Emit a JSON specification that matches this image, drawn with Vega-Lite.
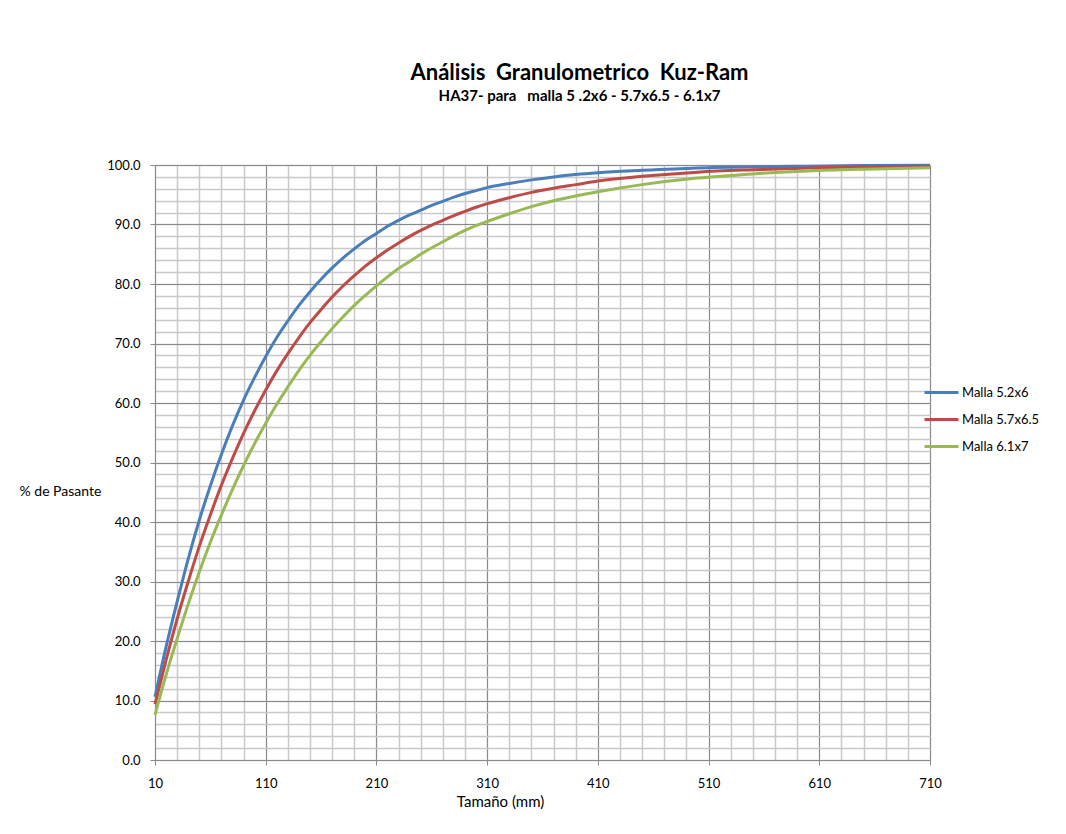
{
  "$schema": "https://vega.github.io/schema/vega-lite/v6.json",
  "width": 775,
  "height": 595,
  "autosize": "none",
  "padding": {"left": 155, "top": 165, "right": 136, "bottom": 74},
  "background": "white",
  "config": {
    "font": "Lato",
    "view": {"stroke": null},
    "axis": {"labelFont": "Lato", "titleFont": "Lato", "labelColor": "#000", "titleColor": "#000", "labelFontSize": 13, "titleFontSize": 14, "titleFontWeight": "normal"}
  },
  "title": {
    "text": "Análisis\u00a0 Granulometrico\u00a0 Kuz-Ram",
    "subtitle": "HA37- para\u00a0\u00a0 malla 5 .2x6 - 5.7x6.5 - 6.1x7",
    "anchor": "middle",
    "dx": 37,
    "offset": 54,
    "font": "Lato",
    "fontSize": 22,
    "fontWeight": "bold",
    "color": "#000",
    "subtitleFont": "Lato",
    "subtitleFontSize": 15,
    "subtitleFontWeight": "bold",
    "subtitleColor": "#000",
    "subtitlePadding": 4
  },
  "data": {
    "values": [
      {"s": "Malla 5.2x6", "x": 10, "p": 10.6}, {"s": "Malla 5.2x6", "x": 20, "p": 19.0}, {"s": "Malla 5.2x6", "x": 30, "p": 26.6}, {"s": "Malla 5.2x6", "x": 40, "p": 33.8}, {"s": "Malla 5.2x6", "x": 50, "p": 40.3}, {"s": "Malla 5.2x6", "x": 60, "p": 46.1}, {"s": "Malla 5.2x6", "x": 70, "p": 51.4}, {"s": "Malla 5.2x6", "x": 80, "p": 56.2}, {"s": "Malla 5.2x6", "x": 90, "p": 60.5}, {"s": "Malla 5.2x6", "x": 100, "p": 64.3}, {"s": "Malla 5.2x6", "x": 110, "p": 67.8}, {"s": "Malla 5.2x6", "x": 120, "p": 71.0}, {"s": "Malla 5.2x6", "x": 130, "p": 73.8}, {"s": "Malla 5.2x6", "x": 140, "p": 76.4}, {"s": "Malla 5.2x6", "x": 150, "p": 78.7}, {"s": "Malla 5.2x6", "x": 160, "p": 80.8}, {"s": "Malla 5.2x6", "x": 170, "p": 82.7}, {"s": "Malla 5.2x6", "x": 180, "p": 84.4}, {"s": "Malla 5.2x6", "x": 190, "p": 85.9}, {"s": "Malla 5.2x6", "x": 200, "p": 87.3}, {"s": "Malla 5.2x6", "x": 210, "p": 88.5}, {"s": "Malla 5.2x6", "x": 220, "p": 89.7}, {"s": "Malla 5.2x6", "x": 230, "p": 90.7}, {"s": "Malla 5.2x6", "x": 240, "p": 91.6}, {"s": "Malla 5.2x6", "x": 250, "p": 92.4}, {"s": "Malla 5.2x6", "x": 260, "p": 93.2}, {"s": "Malla 5.2x6", "x": 270, "p": 93.9}, {"s": "Malla 5.2x6", "x": 280, "p": 94.6}, {"s": "Malla 5.2x6", "x": 290, "p": 95.2}, {"s": "Malla 5.2x6", "x": 300, "p": 95.7}, {"s": "Malla 5.2x6", "x": 310, "p": 96.2}, {"s": "Malla 5.2x6", "x": 330, "p": 96.9}, {"s": "Malla 5.2x6", "x": 350, "p": 97.5}, {"s": "Malla 5.2x6", "x": 370, "p": 98.0}, {"s": "Malla 5.2x6", "x": 390, "p": 98.4}, {"s": "Malla 5.2x6", "x": 410, "p": 98.7}, {"s": "Malla 5.2x6", "x": 450, "p": 99.1}, {"s": "Malla 5.2x6", "x": 500, "p": 99.5}, {"s": "Malla 5.2x6", "x": 550, "p": 99.7}, {"s": "Malla 5.2x6", "x": 600, "p": 99.8}, {"s": "Malla 5.2x6", "x": 650, "p": 99.9}, {"s": "Malla 5.2x6", "x": 710, "p": 99.95},
      {"s": "Malla 5.7x6.5", "x": 10, "p": 9.4}, {"s": "Malla 5.7x6.5", "x": 20, "p": 16.8}, {"s": "Malla 5.7x6.5", "x": 30, "p": 23.7}, {"s": "Malla 5.7x6.5", "x": 40, "p": 30.0}, {"s": "Malla 5.7x6.5", "x": 50, "p": 35.9}, {"s": "Malla 5.7x6.5", "x": 60, "p": 41.2}, {"s": "Malla 5.7x6.5", "x": 70, "p": 46.2}, {"s": "Malla 5.7x6.5", "x": 80, "p": 50.7}, {"s": "Malla 5.7x6.5", "x": 90, "p": 54.9}, {"s": "Malla 5.7x6.5", "x": 100, "p": 58.7}, {"s": "Malla 5.7x6.5", "x": 110, "p": 62.2}, {"s": "Malla 5.7x6.5", "x": 120, "p": 65.4}, {"s": "Malla 5.7x6.5", "x": 130, "p": 68.3}, {"s": "Malla 5.7x6.5", "x": 140, "p": 71.0}, {"s": "Malla 5.7x6.5", "x": 150, "p": 73.5}, {"s": "Malla 5.7x6.5", "x": 160, "p": 75.7}, {"s": "Malla 5.7x6.5", "x": 170, "p": 77.8}, {"s": "Malla 5.7x6.5", "x": 180, "p": 79.7}, {"s": "Malla 5.7x6.5", "x": 190, "p": 81.4}, {"s": "Malla 5.7x6.5", "x": 200, "p": 83.0}, {"s": "Malla 5.7x6.5", "x": 210, "p": 84.4}, {"s": "Malla 5.7x6.5", "x": 220, "p": 85.7}, {"s": "Malla 5.7x6.5", "x": 230, "p": 86.9}, {"s": "Malla 5.7x6.5", "x": 240, "p": 88.0}, {"s": "Malla 5.7x6.5", "x": 250, "p": 89.0}, {"s": "Malla 5.7x6.5", "x": 260, "p": 89.9}, {"s": "Malla 5.7x6.5", "x": 270, "p": 90.7}, {"s": "Malla 5.7x6.5", "x": 280, "p": 91.5}, {"s": "Malla 5.7x6.5", "x": 290, "p": 92.2}, {"s": "Malla 5.7x6.5", "x": 300, "p": 92.9}, {"s": "Malla 5.7x6.5", "x": 310, "p": 93.5}, {"s": "Malla 5.7x6.5", "x": 330, "p": 94.5}, {"s": "Malla 5.7x6.5", "x": 350, "p": 95.4}, {"s": "Malla 5.7x6.5", "x": 370, "p": 96.1}, {"s": "Malla 5.7x6.5", "x": 390, "p": 96.7}, {"s": "Malla 5.7x6.5", "x": 410, "p": 97.3}, {"s": "Malla 5.7x6.5", "x": 450, "p": 98.1}, {"s": "Malla 5.7x6.5", "x": 500, "p": 98.8}, {"s": "Malla 5.7x6.5", "x": 550, "p": 99.2}, {"s": "Malla 5.7x6.5", "x": 600, "p": 99.5}, {"s": "Malla 5.7x6.5", "x": 650, "p": 99.7}, {"s": "Malla 5.7x6.5", "x": 710, "p": 99.8},
      {"s": "Malla 6.1x7", "x": 10, "p": 7.6}, {"s": "Malla 6.1x7", "x": 20, "p": 14.3}, {"s": "Malla 6.1x7", "x": 30, "p": 20.4}, {"s": "Malla 6.1x7", "x": 40, "p": 26.2}, {"s": "Malla 6.1x7", "x": 50, "p": 31.6}, {"s": "Malla 6.1x7", "x": 60, "p": 36.6}, {"s": "Malla 6.1x7", "x": 70, "p": 41.2}, {"s": "Malla 6.1x7", "x": 80, "p": 45.5}, {"s": "Malla 6.1x7", "x": 90, "p": 49.5}, {"s": "Malla 6.1x7", "x": 100, "p": 53.2}, {"s": "Malla 6.1x7", "x": 110, "p": 56.6}, {"s": "Malla 6.1x7", "x": 120, "p": 59.8}, {"s": "Malla 6.1x7", "x": 130, "p": 62.7}, {"s": "Malla 6.1x7", "x": 140, "p": 65.5}, {"s": "Malla 6.1x7", "x": 150, "p": 68.0}, {"s": "Malla 6.1x7", "x": 160, "p": 70.3}, {"s": "Malla 6.1x7", "x": 170, "p": 72.5}, {"s": "Malla 6.1x7", "x": 180, "p": 74.5}, {"s": "Malla 6.1x7", "x": 190, "p": 76.4}, {"s": "Malla 6.1x7", "x": 200, "p": 78.1}, {"s": "Malla 6.1x7", "x": 210, "p": 79.7}, {"s": "Malla 6.1x7", "x": 220, "p": 81.2}, {"s": "Malla 6.1x7", "x": 230, "p": 82.6}, {"s": "Malla 6.1x7", "x": 240, "p": 83.8}, {"s": "Malla 6.1x7", "x": 250, "p": 85.0}, {"s": "Malla 6.1x7", "x": 260, "p": 86.1}, {"s": "Malla 6.1x7", "x": 270, "p": 87.1}, {"s": "Malla 6.1x7", "x": 280, "p": 88.1}, {"s": "Malla 6.1x7", "x": 290, "p": 89.0}, {"s": "Malla 6.1x7", "x": 300, "p": 89.8}, {"s": "Malla 6.1x7", "x": 310, "p": 90.5}, {"s": "Malla 6.1x7", "x": 330, "p": 91.8}, {"s": "Malla 6.1x7", "x": 350, "p": 93.0}, {"s": "Malla 6.1x7", "x": 370, "p": 94.0}, {"s": "Malla 6.1x7", "x": 390, "p": 94.8}, {"s": "Malla 6.1x7", "x": 410, "p": 95.5}, {"s": "Malla 6.1x7", "x": 450, "p": 96.7}, {"s": "Malla 6.1x7", "x": 500, "p": 97.8}, {"s": "Malla 6.1x7", "x": 550, "p": 98.5}, {"s": "Malla 6.1x7", "x": 600, "p": 99.0}, {"s": "Malla 6.1x7", "x": 650, "p": 99.3}, {"s": "Malla 6.1x7", "x": 710, "p": 99.55}
    ]
  },
  "layer": [
    {
      "mark": {"type": "line", "opacity": 0},
      "encoding": {
        "x": {"field": "x", "type": "quantitative", "scale": {"domain": [10, 710], "nice": false, "zero": false},
          "axis": {"orient": "bottom", "values": [10,30,50,70,90,110,130,150,170,190,210,230,250,270,290,310,330,350,370,390,410,430,450,470,490,510,530,550,570,590,610,630,650,670,690,710], "grid": true, "gridColor": "#c9c9c9", "gridWidth": 1.5, "labels": false, "ticks": false, "domain": false, "title": null}},
        "y": {"field": "p", "type": "quantitative", "scale": {"domain": [0, 100], "nice": false},
          "axis": {"orient": "left", "values": [0,2,4,6,8,10,12,14,16,18,20,22,24,26,28,30,32,34,36,38,40,42,44,46,48,50,52,54,56,58,60,62,64,66,68,70,72,74,76,78,80,82,84,86,88,90,92,94,96,98,100], "grid": true, "gridColor": "#c9c9c9", "gridWidth": 1.5, "labels": false, "ticks": false, "domain": false, "title": null}},
        "detail": {"field": "s"}
      }
    },
    {
      "mark": {"type": "line", "strokeWidth": 3, "interpolate": "monotone"},
      "encoding": {
        "x": {"field": "x", "type": "quantitative",
          "axis": {"orient": "bottom", "values": [10,110,210,310,410,510,610,710], "labelFlush": false, "grid": true, "gridColor": "#8a8a8a", "gridWidth": 1, "domainColor": "#8a8a8a", "tickColor": "#8a8a8a", "tickSize": 5, "labelPadding": 12, "labelFontSize": 13, "title": "Tamaño (mm)", "titleFontSize": 15, "titleX": 345, "titleY": 46, "titleAnchor": "middle", "titleAlign": "center", "titleBaseline": "alphabetic"}},
        "y": {"field": "p", "type": "quantitative",
          "axis": {"orient": "left", "values": [0,10,20,30,40,50,60,70,80,90,100], "format": ".1f", "grid": true, "gridColor": "#8a8a8a", "gridWidth": 1, "domainColor": "#8a8a8a", "tickColor": "#8a8a8a", "tickSize": 5, "labelPadding": 10, "labelFontSize": 13, "title": "% de Pasante", "titleAngle": 0, "titleAlign": "left", "titleBaseline": "middle", "titleX": -136, "titleY": 326, "titleFontSize": 14}},
        "color": {"field": "s", "type": "nominal",
          "scale": {"domain": ["Malla 5.2x6", "Malla 5.7x6.5", "Malla 6.1x7"], "range": ["#4A7EBB", "#BE4B48", "#98B954"]},
          "legend": {"title": null, "orient": "none", "legendX": 768, "legendY": 209, "symbolType": "stroke", "symbolSize": 1156, "symbolStrokeWidth": 3, "labelFontSize": 13, "labelFont": "Lato", "labelColor": "#000", "rowPadding": 1, "labelOffset": 2}}
      }
    }
  ],
  "resolve": {"axis": {"x": "independent", "y": "independent"}}
}
